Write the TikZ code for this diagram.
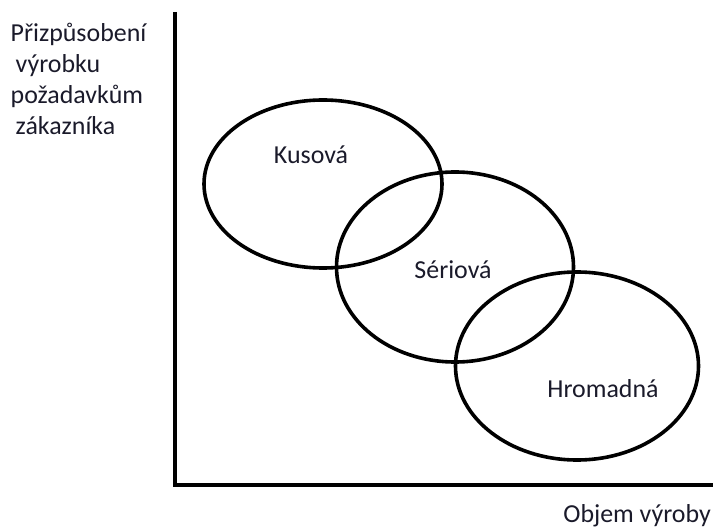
\documentclass[tikz,border=0pt]{standalone}
\usepackage{fontspec}
\setmainfont{Carlito}
\usetikzlibrary{shapes.geometric}
\definecolor{labelink}{RGB}{26,26,42}
\tikzset{
  axisline/.style={line width=3.8bp, black, line join=miter},
  zone/.style={ellipse, draw=black, line width=3.6bp, inner sep=0pt},
  lbl/.style={text=labelink, font=\fontsize{26}{31}\selectfont, inner sep=0pt, anchor=base}
}
\begin{document}
\begin{tikzpicture}[x=1bp,y=-1bp]
  \useasboundingbox (0,0) rectangle (713,528);

  % axes
  \coordinate (ytop) at (175,12);
  \coordinate (origin) at (175,485);
  \coordinate (xend) at (713,485);
  \draw[axisline] (ytop) -- (origin) -- (xend);

  % production types
  \node[zone, minimum width=238bp, minimum height=168bp] (kus) at (323,184) {};
  \node[zone, minimum width=237bp, minimum height=190bp] (ser) at (455,267) {};
  \node[zone, minimum width=243bp, minimum height=188bp] (hrom) at (577,366) {};

  \node[lbl] (kuslbl) at (311,164) {Kusová};
  \node[lbl] (serlbl) at (453,279) {Sériová};
  \node[lbl] (hromlbl) at (603,397) {Hromadná};

  % axis titles
  \node[lbl, anchor=base west] (yt1) at (10.5,42) {Přizpůsobení};
  \node[lbl, anchor=base west] (yt2) at (15.5,73) {výrobku};
  \node[lbl, anchor=base west] (yt3) at (10.5,104) {požadavkům};
  \node[lbl, anchor=base west] (yt4) at (15.5,135) {zákazníka};
  \node[lbl, anchor=base east] (xtitle) at (711,522) {Objem výroby};
\end{tikzpicture}
\end{document}
